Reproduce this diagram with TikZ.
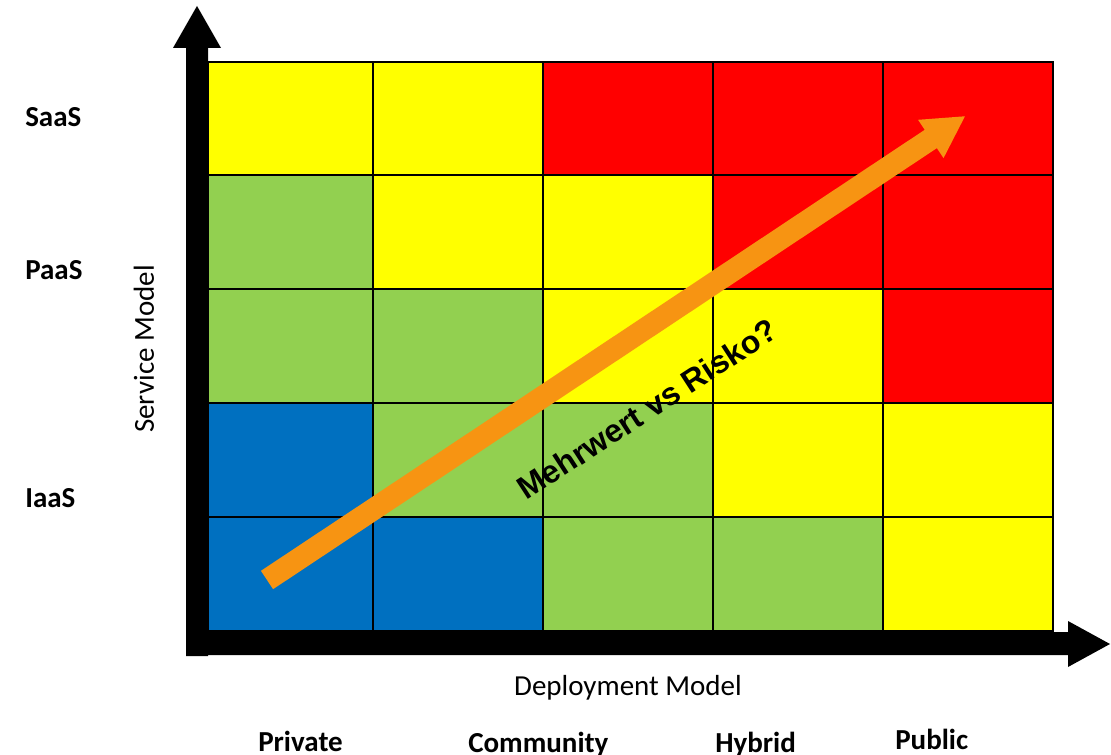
\documentclass[tikz,border=0pt]{standalone}
\usepackage{fontspec}
\setmainfont{Carlito}
\newfontfamily\arialfont{Liberation Sans}
\definecolor{cyel}{RGB}{255,255,0}
\definecolor{cred}{RGB}{255,0,0}
\definecolor{cgrn}{RGB}{146,208,80}
\definecolor{cblu}{RGB}{0,112,192}
\definecolor{corg}{RGB}{247,148,18}
\tikzset{
  cell/.style={draw=black, line width=1.5pt},
  lbl/.style={inner sep=0pt, anchor=base west, font=\fontsize{21.75}{26}\selectfont\bfseries},
  axlbl/.style={inner sep=0pt, font=\fontsize{21.75}{26}\selectfont},
}
\begin{document}
\begin{tikzpicture}[x=0.75pt,y=-0.75pt]
\useasboundingbox (0,0) rectangle (1111,755);
% grid cells
\def\xs{{208,373,543,713,883,1053}}
\def\ys{{62,175,289,403,517,631}}
\foreach \r/\cols in {0/{cyel,cyel,cred,cred,cred},1/{cgrn,cyel,cyel,cred,cred},2/{cgrn,cgrn,cyel,cyel,cred},3/{cblu,cgrn,cgrn,cyel,cyel},4/{cblu,cblu,cgrn,cgrn,cyel}}{
  \foreach \c [count=\i from 0] in \cols {
    \pgfmathsetmacro{\xa}{\xs[\i]}
    \pgfmathsetmacro{\xb}{\xs[\i+1]}
    \pgfmathsetmacro{\ya}{\ys[\r]}
    \pgfmathsetmacro{\yb}{\ys[\r+1]}
    \filldraw[cell, fill=\c] (\xa,\ya) rectangle (\xb,\yb);
  }
}
% axes
\fill[black] (186,656) -- (186,48) -- (173,48) -- (197,6) -- (221,48) -- (208,48) -- (208,656) -- cycle;
\fill[black] (186,632) -- (1068,632) -- (1068,621) -- (1110,644) -- (1068,667) -- (1068,655) -- (186,655) -- cycle;
% orange arrow
\begin{scope}[shift={(267,580)}, rotate=33.6]
\fill[corg] (0,-11) -- (797,-11) -- (797,-23) -- (838,0) -- (797,23) -- (797,11) -- (0,11) -- cycle;
\end{scope}
\node[inner sep=0pt, rotate=33, font=\arialfont\bfseries\fontsize{24}{28}\selectfont] (mv) at (647,409) {Mehrwert vs Risko?};
% labels
\node[lbl] (saas) at (25,127) {SaaS};
\node[lbl] (paas) at (25,280) {PaaS};
\node[lbl] (iaas) at (25,508) {IaaS};
\node[axlbl, rotate=90] (sm) at (144,349) {Service Model};
\node[axlbl, anchor=base] (dm) at (628,695) {Deployment Model};
\node[lbl] (priv) at (258,751) {Private};
\node[lbl] (comm) at (468,752) {Community};
\node[lbl] (hyb) at (715,752) {Hybrid};
\node[lbl] (pub) at (895,749) {Public};
\end{tikzpicture}
\end{document}
